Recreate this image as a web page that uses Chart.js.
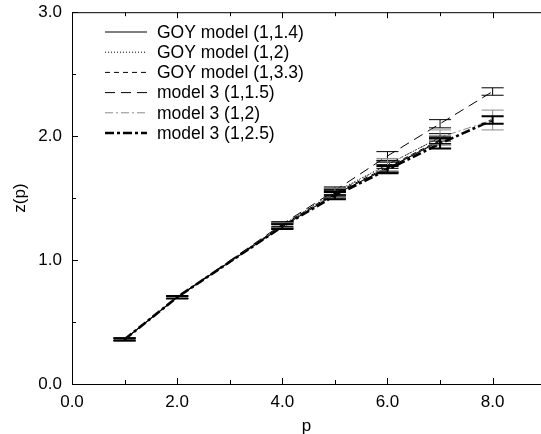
<!DOCTYPE html>
<html>
<head>
<meta charset="utf-8">
<script src="https://cdn.jsdelivr.net/npm/chart.js@4.4.0/dist/chart.umd.min.js"></script>
<style>
  html, body { margin: 0; padding: 0; background: #fff; }
  #wrap { width: 541px; height: 434px; }
</style>
</head>
<body>
<div id="wrap"><canvas id="chart" width="541" height="434"></canvas></div>
<script>
// p values where z(p) was measured
const pGoy = [1, 2, 4, 5, 6, 7];
const pModel3 = [1, 2, 4, 5, 6, 7, 8];

// GOY model runs
const goy14 = [0.36, 0.70, 1.27, 1.53, 1.74, 1.96];
const goy14Err = [0.01, 0.01, 0.02, 0.03, 0.03, 0.03];
const goy2 = [0.36, 0.70, 1.28, 1.55, 1.77, 1.99];
const goy2Err = [0.01, 0.01, 0.02, 0.03, 0.03, 0.03];
const goy33 = [0.36, 0.70, 1.28, 1.54, 1.75, 1.97];
const goy33Err = [0.01, 0.01, 0.02, 0.03, 0.04, 0.03];

// model 3 runs
const m3_15 = [0.36, 0.70, 1.29, 1.56, 1.84, 2.10, 2.36];
const m3_15Err = [0.01, 0.01, 0.02, 0.03, 0.035, 0.033, 0.03];
const m3_2 = [0.36, 0.70, 1.28, 1.54, 1.77, 1.99, 2.13];
const m3_2Err = [0.01, 0.01, 0.02, 0.04, 0.05, 0.06, 0.08];
const m3_25 = [0.36, 0.70, 1.27, 1.52, 1.73, 1.94, 2.13];
const m3_25Err = [0.01, 0.01, 0.02, 0.03, 0.03, 0.04, 0.03];

const xTicks = [0, 2, 4, 6, 8];
const yTicks = [0, 1, 2, 3];

const FONT = "'Liberation Sans', Arial, Helvetica, sans-serif";
const pts = (xs, ys) => xs.map((x, i) => ({ x: x, y: ys[i] }));

function series(label, xs, ys, errs, color, width, dash) {
  return {
    label: label,
    data: pts(xs, ys),
    errors: errs,
    borderColor: color,
    borderWidth: width,
    borderDash: dash,
    showLine: true,
    fill: false,
    pointRadius: 0,
    tension: 0
  };
}

// inward ticks, top frame line, error bars and the legend box
const decor = {
  id: 'decor',
  afterDatasetsDraw(chart) {
    const { ctx, chartArea: a, scales: { x, y } } = chart;
    ctx.save();

    // error bars
    const capHalf = 0.21;
    chart.data.datasets.forEach(ds => {
      ctx.strokeStyle = ds.borderColor;
      ctx.lineWidth = ds.borderWidth > 2 ? 2 : 1;
      ctx.setLineDash([]);
      ds.data.forEach((d, j) => {
        const e = ds.errors[j];
        const px = x.getPixelForValue(d.x);
        const l = x.getPixelForValue(d.x - capHalf), r = x.getPixelForValue(d.x + capHalf);
        const lo = y.getPixelForValue(d.y - e), hi = y.getPixelForValue(d.y + e);
        ctx.beginPath();
        ctx.moveTo(px, lo); ctx.lineTo(px, hi);
        ctx.moveTo(l, lo); ctx.lineTo(r, lo);
        ctx.moveTo(l, hi); ctx.lineTo(r, hi);
        ctx.stroke();
      });
    });

    // frame top line + ticks pointing inside
    ctx.strokeStyle = '#000';
    ctx.lineWidth = 1;
    ctx.beginPath();
    ctx.moveTo(a.left, a.top + 0.5); ctx.lineTo(a.right, a.top + 0.5);
    for (let v = 0; v <= 9; v++) {
      const px = Math.round(x.getPixelForValue(v)) + 0.5;
      const len = v % 2 === 0 ? 6 : 4;
      ctx.moveTo(px, a.bottom); ctx.lineTo(px, a.bottom - len);
      ctx.moveTo(px, a.top); ctx.lineTo(px, a.top + len);
    }
    for (let v = 0; v <= 3; v += 0.5) {
      const py = Math.round(y.getPixelForValue(v)) + 0.5;
      const len = Number.isInteger(v) ? 6 : 4;
      ctx.moveTo(a.left, py); ctx.lineTo(a.left + len, py);
    }
    ctx.stroke();

    // legend
    ctx.font = '17.5px ' + FONT;
    ctx.textBaseline = 'middle';
    ctx.fillStyle = '#000';
    chart.data.datasets.forEach((ds, i) => {
      const ly = 32 + i * 20.2;
      ctx.strokeStyle = ds.borderColor;
      ctx.lineWidth = ds.borderWidth;
      ctx.setLineDash(ds.borderDash || []);
      ctx.beginPath();
      ctx.moveTo(105, ly); ctx.lineTo(147, ly);
      ctx.stroke();
      ctx.fillText(ds.label, 157, ly + 1);
    });
    ctx.restore();
  }
};

new Chart(document.getElementById('chart'), {
  type: 'scatter',
  data: {
    datasets: [
      series('GOY model (1,1.4)', pGoy, goy14, goy14Err, '#000', 1.1, []),
      series('GOY model (1,2)', pGoy, goy2, goy2Err, '#000', 1, [1, 2]),
      series('GOY model (1,3.3)', pGoy, goy33, goy33Err, '#000', 1, [5, 4]),
      series('model 3 (1,1.5)', pModel3, m3_15, m3_15Err, '#000', 1, [10, 6]),
      series('model 3 (1,2)', pModel3, m3_2, m3_2Err, '#8a8a8a', 1, [8, 3, 2, 3]),
      series('model 3 (1,2.5)', pModel3, m3_25, m3_25Err, '#000', 2.6, [9, 3, 3, 3])
    ]
  },
  options: {
    responsive: false,
    animation: false,
    layout: { padding: { top: 0, right: 0, left: 0, bottom: 0 } },
    plugins: { legend: { display: false }, tooltip: { enabled: false } },
    scales: {
      x: {
        type: 'linear',
        min: 0,
        max: 8.92,
        afterBuildTicks: s => { s.ticks = xTicks.map(v => ({ value: v })); },
        afterFit: s => { s.height = 50; },
        grid: { display: false },
        border: { display: true, color: '#000', width: 1 },
        ticks: {
          color: '#000',
          padding: 0,
          maxRotation: 0,
          font: { family: FONT, size: 17 },
          callback: v => v.toFixed(1)
        },
        title: {
          display: true,
          text: 'p',
          color: '#000',
          padding: { top: 0, bottom: 0 },
          font: { family: FONT, size: 17, lineHeight: 0.9 }
        }
      },
      y: {
        type: 'linear',
        min: 0,
        max: 3,
        afterBuildTicks: s => { s.ticks = yTicks.map(v => ({ value: v })); },
        afterFit: s => { s.width = 72; },
        grid: { display: false },
        border: { display: true, color: '#000', width: 1 },
        ticks: {
          color: '#000',
          padding: 2,
          font: { family: FONT, size: 17 },
          callback: v => v.toFixed(1)
        },
        title: {
          display: true,
          text: 'z(p)',
          color: '#000',
          padding: { top: 10, bottom: 0 },
          font: { family: FONT, size: 17 }
        }
      }
    }
  },
  plugins: [decor]
});
</script>
</body>
</html>
